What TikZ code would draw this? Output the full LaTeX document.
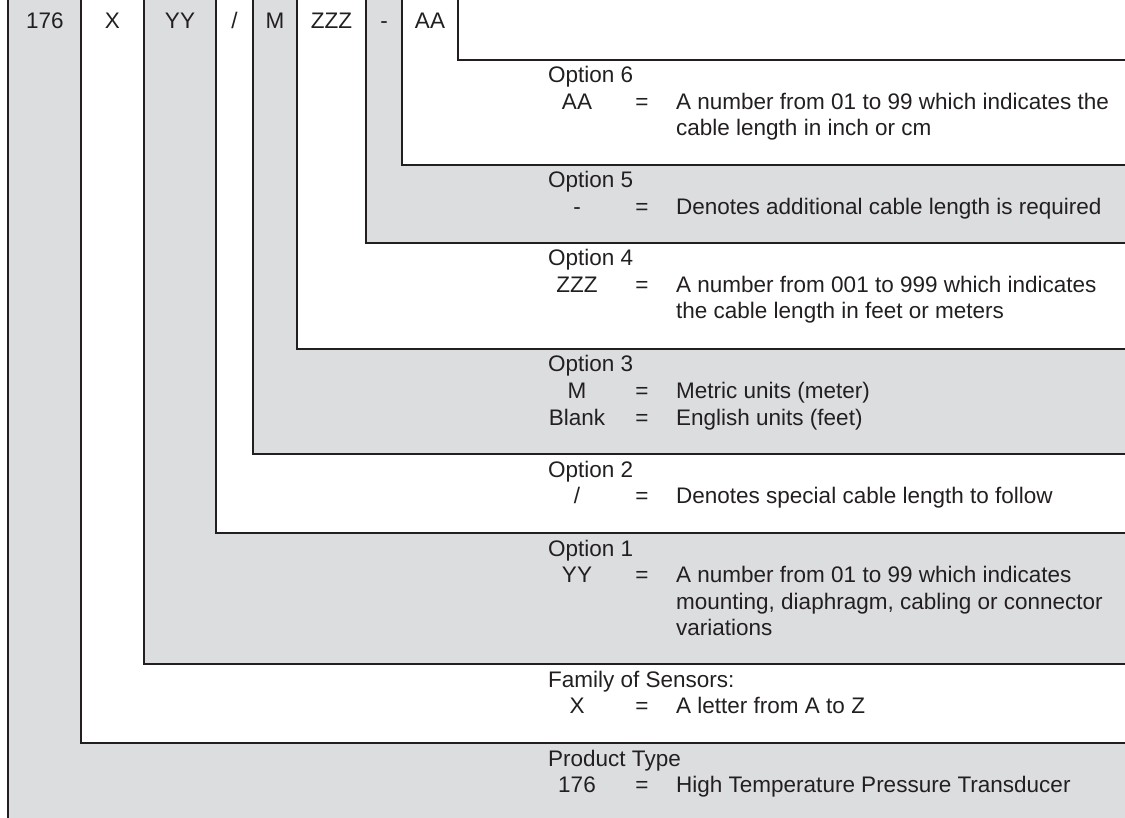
\documentclass[tikz,border=0pt]{standalone}
\usepackage{fontspec}
\setmainfont{Liberation Sans}
\usepackage{tikz}
\usetikzlibrary{positioning}
\definecolor{bandgray}{RGB}{220,221,223}
\definecolor{ink}{RGB}{35,31,32}
\tikzset{band/.style={fill=bandgray},
  edge/.style={draw=ink,line width=2pt},
  code/.style={anchor=base,inner sep=0pt,text=ink},
  head/.style={anchor=base west,inner sep=0pt,text=ink},
  desc/.style={anchor=base west,inner sep=0pt,align=left,text=ink}}

\begin{document}
\begin{tikzpicture}[x=1pt,y=-1pt,line join=miter,font=\fontsize{22.5}{26.5}\selectfont]
\useasboundingbox (0,0) rectangle (1125,818);
% --- shaded bands
\fill[band] (8,0) -- (81,0) -- (81,743) -- (1125,743) -- (1125,818) -- (8,818) -- cycle;
\fill[band] (144,0) -- (216,0) -- (216,533) -- (1125,533) -- (1125,664) -- (144,664) -- cycle;
\fill[band] (253,0) -- (297,0) -- (297,349) -- (1125,349) -- (1125,454) -- (253,454) -- cycle;
\fill[band] (366,0) -- (402,0) -- (402,165) -- (1125,165) -- (1125,243) -- (366,243) -- cycle;
% --- step lines
\draw[edge] (8,0) -- (8,818);
\foreach \xx/\yy in {81/743,144/664,216/533,253/454,297/349,366/243,402/165,458/60}
  \draw[edge] (\xx,0) |- (1126,\yy);
% --- model code
\node[code] (c176) at (45,29) {176};
\node[code] (cX) at (112.5,29) {X};
\node[code] (cYY) at (180,29) {YY};
\node[code] (cSl) at (234.5,29) {/};
\node[code] (cM) at (275,29) {M};
\node[code] (cZZZ) at (331.5,29) {ZZZ};
\node[code] (cDash) at (384,29) {-};
\node[code] (cAA) at (430,29) {AA};
% --- option 6 (multi-line text sits on its last baseline)
\node[head] (t6) at (548,83) {Option 6};
\node[code] (k6) at (577,109.5) {AA};
\node[code] (e6) at (642,109.5) {=};
\node[desc] (d6) at (676,136) {A number from 01 to 99 which indicates the\\cable length in inch or cm};
% --- option 5
\node[head] (t5) at (548,188) {Option 5};
\node[code] (k5) at (577,214.5) {-};
\node[code] (e5) at (642,214.5) {=};
\node[desc] (d5) at (676,214.5) {Denotes additional cable length is required};
% --- option 4
\node[head] (t4) at (548,266) {Option 4};
\node[code] (k4) at (577,292.5) {ZZZ};
\node[code] (e4) at (642,292.5) {=};
\node[desc] (d4) at (676,319) {A number from 001 to 999 which indicates\\the cable length in feet or meters};
% --- option 3
\node[head] (t3) at (548,372) {Option 3};
\node[code] (k3a) at (577,398.5) {M};
\node[code] (e3a) at (642,398.5) {=};
\node[desc] (d3a) at (676,398.5) {Metric units (meter)};
\node[code] (k3b) at (577,425) {Blank};
\node[code] (e3b) at (642,425) {=};
\node[desc] (d3b) at (676,425) {English units (feet)};
% --- option 2
\node[head] (t2) at (548,477) {Option 2};
\node[code] (k2) at (577,503.5) {/};
\node[code] (e2) at (642,503.5) {=};
\node[desc] (d2) at (676,503.5) {Denotes special cable length to follow};
% --- option 1
\node[head] (t1) at (548,556) {Option 1};
\node[code] (k1) at (577,582.5) {YY};
\node[code] (e1) at (642,582.5) {=};
\node[desc] (d1) at (676,635.5) {A number from 01 to 99 which indicates\\mounting, diaphragm, cabling or connector\\variations};
% --- family
\node[head] (tF) at (548,687) {Family of Sensors:};
\node[code] (kF) at (577,713.5) {X};
\node[code] (eF) at (642,713.5) {=};
\node[desc] (dF) at (676,713.5) {A letter from A to Z};
% --- product type
\node[head] (tP) at (548,766) {Product Type};
\node[code] (kP) at (577,792.5) {176};
\node[code] (eP) at (642,792.5) {=};
\node[desc] (dP) at (676,792.5) {High Temperature Pressure Transducer};
\end{tikzpicture}
\end{document}
